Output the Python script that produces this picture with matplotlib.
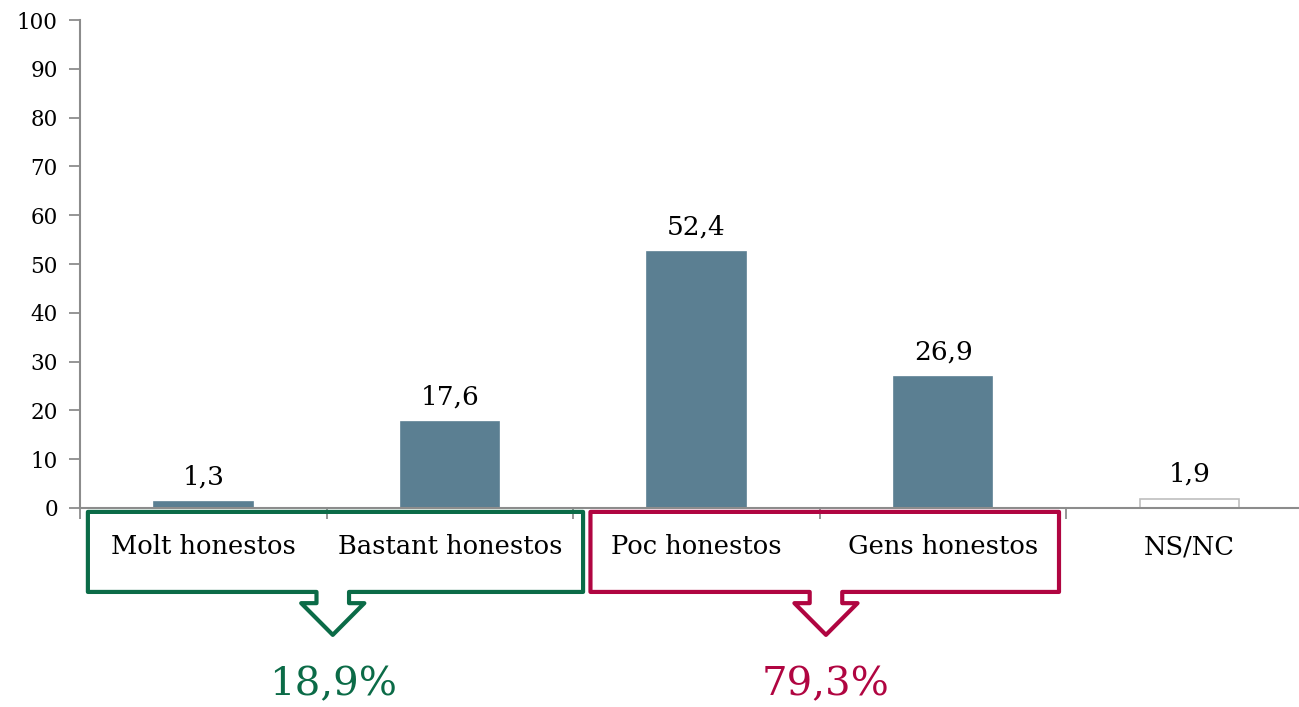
import matplotlib.pyplot as plt
from matplotlib.patches import Polygon

categories = ["Molt honestos", "Bastant honestos", "Poc honestos", "Gens honestos", "NS/NC"]
values = [1.3, 17.6, 52.4, 26.9, 1.9]
value_labels = ["1,3", "17,6", "52,4", "26,9", "1,9"]
group_labels = ["18,9%", "79,3%"]
group_ranges = [(0, 1), (2, 3)]
group_colors = ["#0B6B47", "#B00541"]

bar_color = "#5B7F92"
axis_grey = "#8C8C8C"

plt.rcParams['font.family'] = ['DejaVu Serif']

fig = plt.figure(figsize=(12.99, 7.07), dpi=100)
ax = fig.add_axes([80 / 1299, 199 / 707, 1233 / 1299, 488 / 707])

x = list(range(len(categories)))
facecolors = [bar_color] * 4 + ["white"]
edgecolors = [bar_color] * 4 + ["#BFBFBF"]
ax.bar(x, values, width=0.4, color=facecolors, edgecolor=edgecolors, linewidth=1.2, zorder=2)

for xi, v, lab in zip(x, values, value_labels):
    ax.annotate(lab, (xi, v), xytext=(0, 9), textcoords="offset points",
                ha="center", va="bottom", fontsize=19, color="black")

ax.set_xlim(-0.5, 4.5)
ax.set_ylim(0, 100)
ax.set_yticks(range(0, 101, 10))
ax.tick_params(axis="y", labelsize=15.5, length=8, width=1.3, color=axis_grey, pad=8)

ax.set_xticks(x)
ax.set_xticklabels(categories, fontsize=18.5)
ax.tick_params(axis="x", length=0, pad=19)
ax.set_xticks([i - 0.5 for i in range(len(categories) + 1)], minor=True)
ax.tick_params(axis="x", which="minor", length=8, width=1.3, color=axis_grey)

for side in ["top", "right"]:
    ax.spines[side].set_visible(False)
for side in ["left", "bottom"]:
    ax.spines[side].set_color(axis_grey)
    ax.spines[side].set_linewidth(1.5)

# bracket boxes with down arrows under the grouped categories
y_top, y_bot, y_stem, y_tip = -0.8, -17.2, -19.5, -26.0
stem_hw, wing_hw = 0.066, 0.128
box_pad = [(0.468, 0.54), (0.43, 0.47)]
for (a, b), col, lab, (pl, pr) in zip(group_ranges, group_colors, group_labels, box_pad):
    left, right = a - pl, b + pr
    mid = (a + b) / 2 + 0.025
    pts = [(left, y_top), (right, y_top), (right, y_bot),
           (mid + stem_hw, y_bot), (mid + stem_hw, y_stem), (mid + wing_hw, y_stem),
           (mid, y_tip), (mid - wing_hw, y_stem), (mid - stem_hw, y_stem),
           (mid - stem_hw, y_bot), (left, y_bot)]
    ax.add_patch(Polygon(pts, closed=True, fill=False, edgecolor=col, linewidth=3,
                         joinstyle="round", clip_on=False, zorder=3))
    ax.text(mid, -36.3, lab, ha="center", va="center", fontsize=29, color=col)

fig.savefig("out.png", dpi=100)
